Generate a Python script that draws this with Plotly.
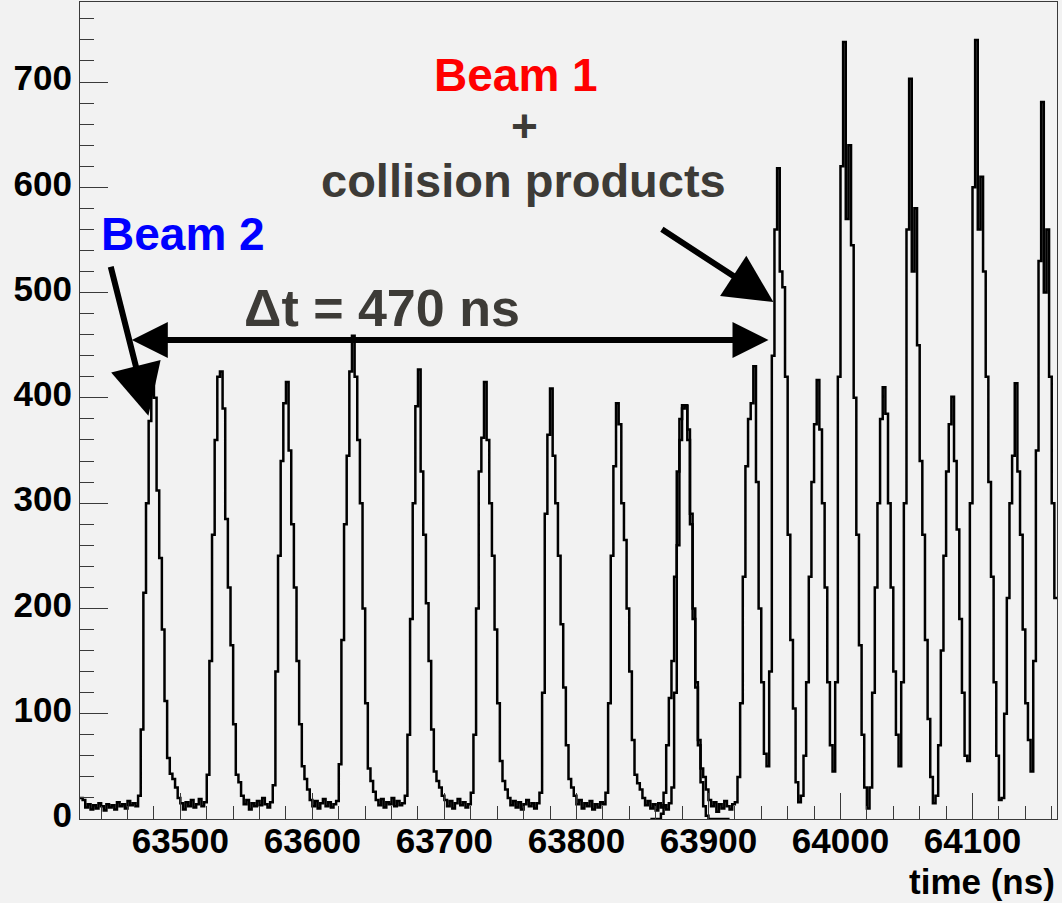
import plotly.graph_objects as go

# Time histogram of the pick-up signal, 2 ns bins starting at 63424 ns
T_START = 63424.0
BIN_WIDTH = 2.0

counts = [
    # 63424 ns
    20, 18, 11, 14, 9, 13, 10, 15, 12, 8, 14, 11, 13, 9, 16, 12, 14, 10, 17, 13, 15, 12, 22, 85, 215,
    # 63474 ns
    300, 378, 424, 400, 312, 248, 180, 112, 58, 43, 38, 30, 20, 15, 9, 16, 12, 18, 11, 14, 19, 12, 16, 42, 150,
    # 63524 ns
    270, 360, 420, 425, 390, 285, 220, 165, 90, 42, 35, 22, 14, 18, 9, 15, 12, 17, 13, 20, 14, 11, 16, 32, 140,
    # 63574 ns
    250, 340, 395, 415, 350, 280, 220, 150, 90, 50, 38, 28, 18, 12, 17, 10, 15, 19, 12, 16, 11, 14, 17, 52, 170,
    # 63624 ns
    280, 345, 425, 459, 420, 360, 300, 200, 110, 48, 36, 26, 18, 13, 19, 11, 16, 14, 20, 12, 17, 13, 15, 22, 80,
    # 63674 ns
    190, 300, 392, 427, 330, 270, 205, 150, 85, 45, 36, 30, 22, 18, 12, 17, 10, 15, 19, 13, 16, 11, 14, 25, 80,
    # 63724 ns
    200, 330, 362, 415, 360, 300, 250, 180, 110, 55, 36, 28, 20, 13, 17, 11, 16, 9, 14, 18, 12, 15, 10, 15, 25,
    # 63774 ns
    120, 290, 365, 409, 345, 300, 250, 185, 125, 70, 38, 30, 22, 14, 18, 10, 15, 12, 17, 9, 14, 11, 16, 14, 25,
    # 63824 ns
    110, 250, 335, 395, 375, 300, 265, 200, 140, 75, 42, 34, 28, 20, 13, 17, 10, 14, 8, 15, 11, 13, 9, 15, 30,
    # 63874 ns
    120, 260, 360, 390, 393, 370, 280, 190, 125, 75, 48, 40, 28, 18, 12, 16, 7, 14, 10, 17, 12, 9, 14, 16, 40,
    # 63924 ns
    110, 230, 335, 380, 395, 430, 320, 200, 130, 62, 50, 140, 440, 560, 618, 520, 505, 420, 270, 170, 105, 35, 16, 22, 60,
    # 63974 ns
    130, 230, 320, 375, 417, 370, 300, 220, 130, 70, 45, 130, 420, 620, 738, 570, 640, 545, 400, 270, 165, 80, 30, 10, 30,
    # 64024 ns
    120, 220, 300, 380, 410, 385, 300, 220, 140, 80, 50, 130, 300, 560, 703, 520, 580, 450, 340, 270, 170, 95, 40, 15, 22,
    # 64074 ns
    70, 160, 250, 330, 375, 401, 340, 275, 190, 120, 60, 55, 300, 600, 740, 560, 610, 520, 420, 320, 230, 130, 60, 18, 20,
    # 64124 ns
    100, 210, 300, 345, 414, 330, 270, 180, 110, 75, 45, 150, 350, 530, 681, 500, 560, 420, 300, 210,
]

# Second histogram, filled only around the bunch at ~63880 ns
OVERLAY_START = 63856.0
overlay_counts = [
    0, 0, 0, 0, 5, 25, 70, 115, 150, 230, 330, 380, 393, 392, 360,
    290, 200, 130, 70, 35, 12, 3, 0, 0, 0, 0, 0, 0, 0, 0,
]

X_RANGE = [63424, 64164]
Y_RANGE = [0, 776]


def step_outline(start, width, values):
    xs = [start + i * width for i in range(len(values) + 1)]
    ys = list(values) + [values[-1]]
    return xs, ys


FONT = "Liberation Sans, Arial, Helvetica, sans-serif"
GREY_TEXT = "#3d3b37"
AXIS_COLOR = "#3a3a3a"

fig = go.Figure()

ox, oy = step_outline(OVERLAY_START, BIN_WIDTH, overlay_counts)
fig.add_trace(go.Scatter(x=ox, y=oy, mode="lines", line=dict(color="black", width=2.5, shape="hv"),
                         hoverinfo="skip"))

hx, hy = step_outline(T_START, BIN_WIDTH, counts)
fig.add_trace(go.Scatter(x=hx, y=hy, mode="lines", line=dict(color="black", width=2.5, shape="hv"),
                         hoverinfo="skip"))

fig.update_layout(
    width=1062, height=903,
    margin=dict(l=80, r=5, t=2, b=84),
    paper_bgcolor="#f2f2f2", plot_bgcolor="#f2f2f2",
    showlegend=False,
    xaxis=dict(
        range=X_RANGE, tick0=63500, dtick=100, tickformat="d",
        ticks="inside", ticklen=26, tickwidth=1, tickcolor=AXIS_COLOR,
        minor=dict(ticks="inside", ticklen=13, dtick=20, tick0=63500, tickcolor=AXIS_COLOR, tickwidth=1),
        showline=True, linecolor=AXIS_COLOR, linewidth=1, mirror=True,
        showgrid=False, zeroline=False, ticklabelstandoff=-9,
        tickfont=dict(family=FONT, size=35, color="black", weight="bold"),
    ),
    yaxis=dict(
        range=Y_RANGE, tick0=0, dtick=100, tickformat="d",
        ticks="inside", ticklen=28, tickwidth=1, tickcolor=AXIS_COLOR,
        minor=dict(ticks="inside", ticklen=14, dtick=20, tick0=0, tickcolor=AXIS_COLOR, tickwidth=1),
        showline=True, linecolor=AXIS_COLOR, linewidth=1, mirror=True,
        showgrid=False, zeroline=False, ticklabelshift=-4,
        tickfont=dict(family=FONT, size=35, color="black", weight="bold"),
    ),
)

# Axis title, right-aligned under the frame
fig.add_annotation(text="time (ns)", xref="paper", yref="paper", x=1.0, y=-0.077,
                   xanchor="right", yanchor="middle", showarrow=False,
                   font=dict(family=FONT, size=35, color="black", weight="bold"))

# Labels
labels = [
    ("Beam 1", 63754, 707, "#ff0000", 46),
    ("+", 63761, 658, GREY_TEXT, 46),
    ("collision products", 63760, 606, GREY_TEXT, 47),
    ("Beam 2", 63502, 556, "#0000ff", 46),
    ("\u0394t = 470 ns", 63653, 485, GREY_TEXT, 52),
]
for text, tx, ty, color, size in labels:
    fig.add_annotation(text=text, x=tx, y=ty, xref="x", yref="y", showarrow=False,
                       xanchor="center", yanchor="middle",
                       font=dict(family=FONT, size=size, color=color, weight="bold"))

# Arrows: (tail t, tail value, head t, head value, head size, both ends)
arrows = [
    (63447, 526, 63475.8, 383, 1.7, False),
    (63863.6, 561, 63949.2, 491, 1.6, False),
    (63462.1, 455, 63945.5, 455, 1.2, True),
]
for tx0, ty0, tx1, ty1, hsize, both in arrows:
    fig.add_annotation(x=tx1, y=ty1, ax=tx0, ay=ty0, xref="x", yref="y", axref="x", ayref="y",
                       text="", showarrow=True, arrowhead=2, arrowsize=hsize, arrowwidth=6,
                       arrowcolor="black", standoff=0, startstandoff=0,
                       arrowside="end+start" if both else "end", startarrowhead=2, startarrowsize=hsize)

fig.write_html("out.html")
